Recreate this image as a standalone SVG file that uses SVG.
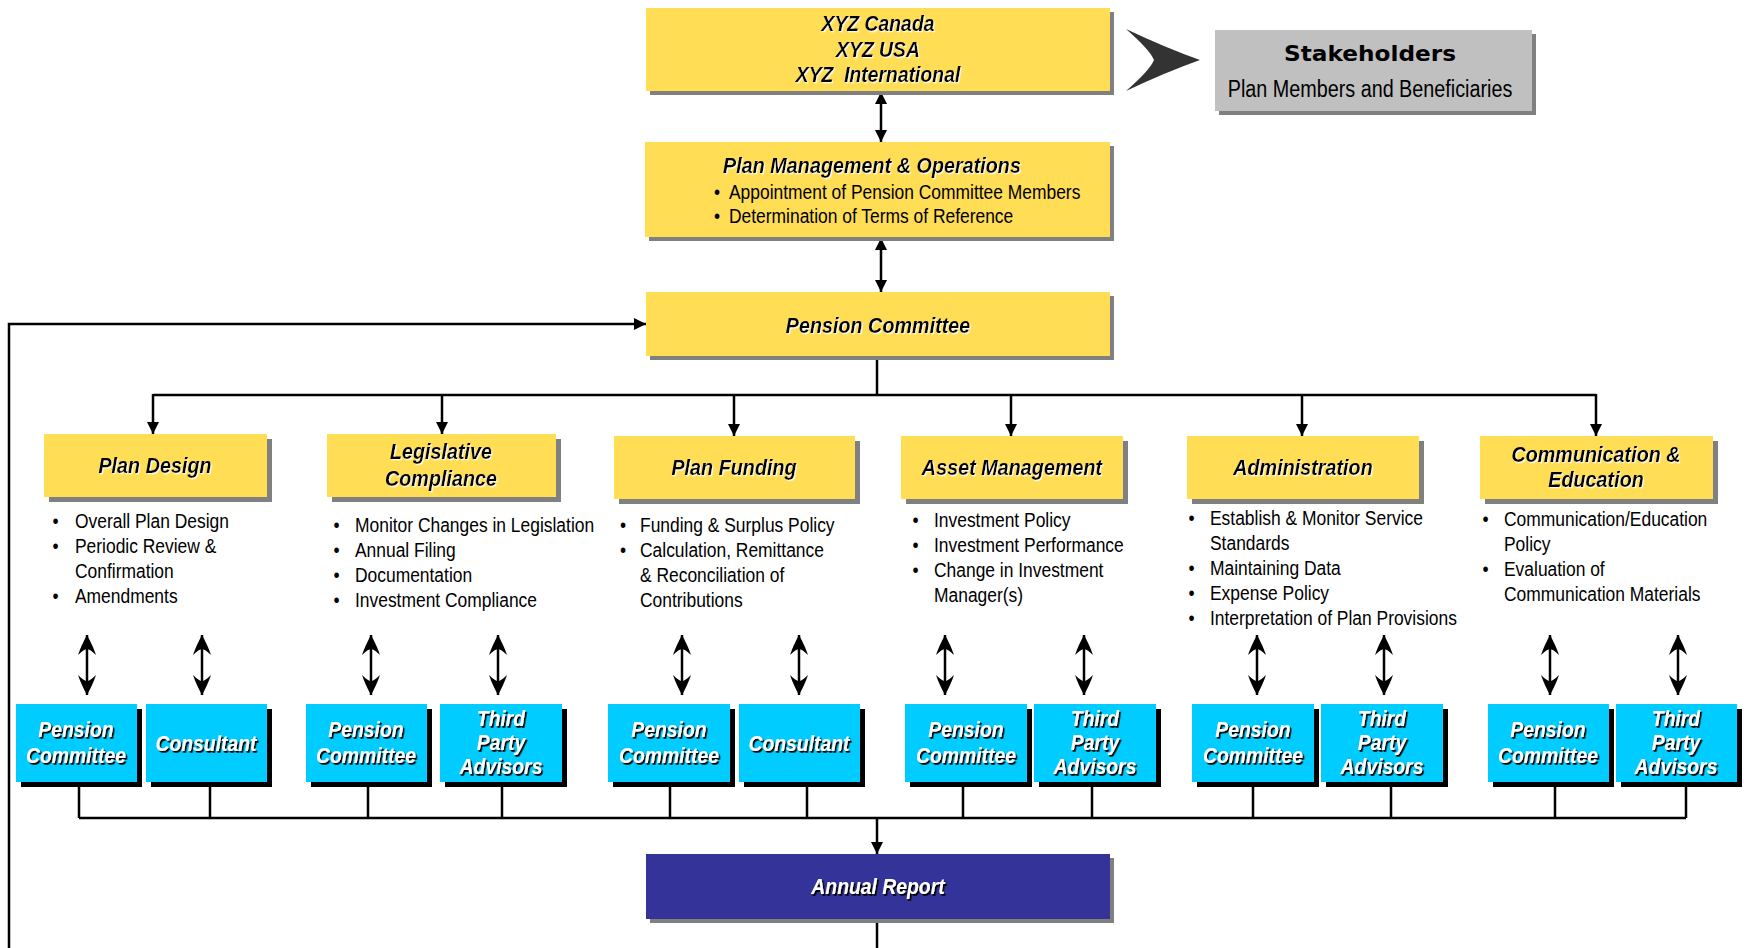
<svg xmlns="http://www.w3.org/2000/svg" width="1744" height="948" viewBox="0 0 1744 948">
<defs>
<style>
.yb{fill:#FFDD55}
.gs{fill:#808080}
.cb{fill:#00CCFF}
.ks{fill:#000}
.ttl{font-family:"Liberation Sans",Arial,sans-serif;font-weight:bold;font-style:italic;font-size:22px;fill:#000;text-anchor:middle;filter:url(#wsh)}
.ctx{font-family:"Liberation Sans",Arial,sans-serif;font-weight:bold;font-style:italic;font-size:22px;fill:#fff;text-anchor:middle;filter:url(#ksh)}
.bl{font-family:"Liberation Sans",Arial,sans-serif;font-size:21px;fill:#000}
.ln{fill:none;stroke:#000;stroke-width:2.5}
</style>
<filter id="wsh" x="-5%" y="-20%" width="110%" height="140%"><feDropShadow dx="1.3" dy="1.3" stdDeviation="0" flood-color="#fff" flood-opacity="0.9"/></filter>
<filter id="ksh" x="-5%" y="-20%" width="110%" height="140%"><feDropShadow dx="1.8" dy="1.8" stdDeviation="0" flood-color="#000"/></filter>
<marker id="tri" markerUnits="userSpaceOnUse" viewBox="0 0 12 12" refX="12" refY="6" markerWidth="12" markerHeight="12" orient="auto-start-reverse"><path d="M0,0 L12,6 L0,12 z" fill="#000"/></marker>
<marker id="st" markerUnits="userSpaceOnUse" viewBox="0 0 20 18" refX="20" refY="9" markerWidth="20" markerHeight="18" orient="auto-start-reverse"><path d="M20,9 Q9,3 0,0 Q6,6 6,9 Q6,12 0,18 Q9,15 20,9 z" fill="#000"/></marker>
</defs>
<rect width="1744" height="948" fill="#fff"/>

<g id="connectors">
<line class="ln" x1="881" y1="92" x2="881" y2="142" marker-start="url(#tri)" marker-end="url(#tri)"/>
<line class="ln" x1="881" y1="238" x2="881" y2="292" marker-start="url(#tri)" marker-end="url(#tri)"/>
<polyline class="ln" points="9,948 9,324 646,324" marker-end="url(#tri)"/>
<line class="ln" x1="877" y1="357" x2="877" y2="395"/>
<line class="ln" x1="153" y1="395" x2="1596" y2="395"/>
<line class="ln" x1="153" y1="394" x2="153" y2="434" marker-end="url(#tri)"/>
<line class="ln" x1="442" y1="394" x2="442" y2="434" marker-end="url(#tri)"/>
<line class="ln" x1="734" y1="394" x2="734" y2="436" marker-end="url(#tri)"/>
<line class="ln" x1="1011" y1="394" x2="1011" y2="436" marker-end="url(#tri)"/>
<line class="ln" x1="1302" y1="394" x2="1302" y2="436" marker-end="url(#tri)"/>
<line class="ln" x1="1596" y1="394" x2="1596" y2="436" marker-end="url(#tri)"/>
<g>
<line class="ln" x1="87" y1="635" x2="87" y2="695" marker-start="url(#st)" marker-end="url(#st)"/>
<line class="ln" x1="202" y1="635" x2="202" y2="695" marker-start="url(#st)" marker-end="url(#st)"/>
<line class="ln" x1="371" y1="635" x2="371" y2="695" marker-start="url(#st)" marker-end="url(#st)"/>
<line class="ln" x1="498" y1="635" x2="498" y2="695" marker-start="url(#st)" marker-end="url(#st)"/>
<line class="ln" x1="682" y1="635" x2="682" y2="695" marker-start="url(#st)" marker-end="url(#st)"/>
<line class="ln" x1="799" y1="635" x2="799" y2="695" marker-start="url(#st)" marker-end="url(#st)"/>
<line class="ln" x1="945" y1="635" x2="945" y2="695" marker-start="url(#st)" marker-end="url(#st)"/>
<line class="ln" x1="1084" y1="635" x2="1084" y2="695" marker-start="url(#st)" marker-end="url(#st)"/>
<line class="ln" x1="1257" y1="635" x2="1257" y2="695" marker-start="url(#st)" marker-end="url(#st)"/>
<line class="ln" x1="1384" y1="635" x2="1384" y2="695" marker-start="url(#st)" marker-end="url(#st)"/>
<line class="ln" x1="1550" y1="635" x2="1550" y2="695" marker-start="url(#st)" marker-end="url(#st)"/>
<line class="ln" x1="1678" y1="635" x2="1678" y2="695" marker-start="url(#st)" marker-end="url(#st)"/>
</g>
<path class="ln" d="M79,787 V818 M210,787 V818 M368,787 V818 M502,787 V818 M670,787 V818 M807,787 V818 M963,787 V818 M1092,787 V818 M1253,787 V818 M1391,787 V818 M1555,787 V818 M1686,787 V818 M79,818 H1686"/>
<line class="ln" x1="877" y1="818" x2="877" y2="854" marker-end="url(#tri)"/>
<line class="ln" x1="877" y1="919" x2="877" y2="948"/>
<path d="M1126,29 Q1166,48 1200,60 Q1166,72 1126,91 Q1150,70 1154,60 Q1150,50 1126,29 z" fill="#333"/>
</g>

<g id="entities">
<rect class="gs" x="650" y="12" width="464" height="83"/>
<rect class="yb" x="646" y="8" width="464" height="83"/>
<text class="ttl" transform="translate(878 0) scale(0.88 1)" x="0" y="31">XYZ Canada</text>
<text class="ttl" transform="translate(878 0) scale(0.88 1)" x="0" y="57">XYZ USA</text>
<text class="ttl" transform="translate(878 0) scale(0.88 1)" x="0" y="82" style="white-space:pre">XYZ  International</text>
</g>

<g id="stakeholders">
<rect class="gs" x="1219" y="34" width="317" height="81"/>
<rect x="1215" y="30" width="317" height="81" fill="#C0C0C0"/>
<text x="1370" y="61" text-anchor="middle" font-family="'DejaVu Sans','Liberation Sans',sans-serif" font-weight="bold" font-size="21" textLength="172" lengthAdjust="spacingAndGlyphs">Stakeholders</text>
<text class="bl" transform="translate(1370 0) scale(0.86 1)" x="0" y="97" text-anchor="middle" style="font-size:23px">Plan Members and Beneficiaries</text>
</g>

<g id="plan-management">
<rect class="gs" x="649" y="146" width="465" height="95"/>
<rect class="yb" x="645" y="142" width="465" height="95"/>
<text class="ttl" transform="translate(872 0) scale(0.9 1)" x="0" y="173">Plan Management &amp; Operations</text>
<g class="bl" transform="translate(729 0) scale(0.83 1)">
<text x="-18" y="199">•</text><text x="0" y="199">Appointment of Pension Committee Members</text>
<text x="-18" y="223">•</text><text x="0" y="223">Determination of Terms of Reference</text>
</g>
</g>

<g id="pension-committee">
<rect class="gs" x="650" y="296" width="464" height="64"/>
<rect class="yb" x="646" y="292" width="464" height="64"/>
<text class="ttl" transform="translate(878 0) scale(0.9 1)" x="0" y="333">Pension Committee</text>
</g>

<g id="plan-design">
<rect class="gs" x="49" y="439" width="223" height="63"/>
<rect class="yb" x="44" y="434" width="223" height="63"/>
<text class="ttl" transform="translate(155 0) scale(0.9 1)" x="0" y="473">Plan Design</text>
<g class="bl" transform="translate(75 0) scale(0.83 1)">
<text x="-27" y="528">•</text><text x="0" y="528">Overall Plan Design</text>
<text x="-27" y="553">•</text><text x="0" y="553">Periodic Review &amp;</text>
<text x="0" y="578">Confirmation</text>
<text x="-27" y="603">•</text><text x="0" y="603">Amendments</text>
</g>
</g>

<g id="legislative-compliance">
<rect class="gs" x="332" y="439" width="229" height="63"/>
<rect class="yb" x="327" y="434" width="229" height="63"/>
<text class="ttl" transform="translate(441 0) scale(0.9 1)" x="0" y="459">Legislative</text>
<text class="ttl" transform="translate(441 0) scale(0.9 1)" x="0" y="486">Compliance</text>
<g class="bl" transform="translate(355 0) scale(0.83 1)">
<text x="-26" y="532">•</text><text x="0" y="532">Monitor Changes in Legislation</text>
<text x="-26" y="557">•</text><text x="0" y="557">Annual Filing</text>
<text x="-26" y="582">•</text><text x="0" y="582">Documentation</text>
<text x="-26" y="607">•</text><text x="0" y="607">Investment Compliance</text>
</g>
</g>

<g id="plan-funding">
<rect class="gs" x="619" y="441" width="241" height="63"/>
<rect class="yb" x="614" y="436" width="241" height="63"/>
<text class="ttl" transform="translate(734 0) scale(0.9 1)" x="0" y="475">Plan Funding</text>
<g class="bl" transform="translate(640 0) scale(0.83 1)">
<text x="-24" y="532">•</text><text x="0" y="532">Funding &amp; Surplus Policy</text>
<text x="-24" y="557">•</text><text x="0" y="557">Calculation, Remittance</text>
<text x="0" y="582">&amp; Reconciliation of</text>
<text x="0" y="607">Contributions</text>
</g>
</g>

<g id="asset-management">
<rect class="gs" x="906" y="441" width="222" height="63"/>
<rect class="yb" x="901" y="436" width="222" height="63"/>
<text class="ttl" transform="translate(1012 0) scale(0.9 1)" x="0" y="475">Asset Management</text>
<g class="bl" transform="translate(934 0) scale(0.83 1)">
<text x="-26" y="527">•</text><text x="0" y="527">Investment Policy</text>
<text x="-26" y="552">•</text><text x="0" y="552">Investment Performance</text>
<text x="-26" y="577">•</text><text x="0" y="577">Change in Investment</text>
<text x="0" y="602">Manager(s)</text>
</g>
</g>

<g id="administration">
<rect class="gs" x="1192" y="441" width="232" height="63"/>
<rect class="yb" x="1187" y="436" width="232" height="63"/>
<text class="ttl" transform="translate(1303 0) scale(0.9 1)" x="0" y="475">Administration</text>
<g class="bl" transform="translate(1210 0) scale(0.83 1)">
<text x="-26" y="525">•</text><text x="0" y="525">Establish &amp; Monitor Service</text>
<text x="0" y="550">Standards</text>
<text x="-26" y="575">•</text><text x="0" y="575">Maintaining Data</text>
<text x="-26" y="600">•</text><text x="0" y="600">Expense Policy</text>
<text x="-26" y="625">•</text><text x="0" y="625">Interpretation of Plan Provisions</text>
</g>
</g>

<g id="communication-education">
<rect class="gs" x="1485" y="441" width="233" height="63"/>
<rect class="yb" x="1480" y="436" width="233" height="63"/>
<text class="ttl" transform="translate(1596 0) scale(0.9 1)" x="0" y="462">Communication &amp;</text>
<text class="ttl" transform="translate(1596 0) scale(0.9 1)" x="0" y="487">Education</text>
<g class="bl" transform="translate(1504 0) scale(0.83 1)">
<text x="-26" y="526">•</text><text x="0" y="526">Communication/Education</text>
<text x="0" y="551">Policy</text>
<text x="-26" y="576">•</text><text x="0" y="576">Evaluation of</text>
<text x="0" y="601">Communication Materials</text>
</g>
</g>

<g id="pd-pension-committee"><rect class="ks" x="21" y="709" width="121" height="78"/><rect class="cb" x="16" y="704" width="121" height="78"/><text class="ctx" transform="translate(76 0) scale(0.88 1)" x="0" y="737">Pension</text><text class="ctx" transform="translate(76 0) scale(0.88 1)" x="0" y="763">Committee</text></g>
<g id="pd-consultant"><rect class="ks" x="151" y="709" width="121" height="78"/><rect class="cb" x="146" y="704" width="121" height="78"/><text class="ctx" transform="translate(206 0) scale(0.88 1)" x="0" y="751">Consultant</text></g>
<g id="lc-pension-committee"><rect class="ks" x="311" y="709" width="121" height="78"/><rect class="cb" x="306" y="704" width="121" height="78"/><text class="ctx" transform="translate(366 0) scale(0.88 1)" x="0" y="737">Pension</text><text class="ctx" transform="translate(366 0) scale(0.88 1)" x="0" y="763">Committee</text></g>
<g id="lc-third-party"><rect class="ks" x="445" y="709" width="122" height="78"/><rect class="cb" x="440" y="704" width="122" height="78"/><text class="ctx" transform="translate(501 0) scale(0.88 1)" x="0" y="726">Third</text><text class="ctx" transform="translate(501 0) scale(0.88 1)" x="0" y="750">Party</text><text class="ctx" transform="translate(501 0) scale(0.88 1)" x="0" y="774">Advisors</text></g>
<g id="pf-pension-committee"><rect class="ks" x="613" y="709" width="122" height="78"/><rect class="cb" x="608" y="704" width="122" height="78"/><text class="ctx" transform="translate(669 0) scale(0.88 1)" x="0" y="737">Pension</text><text class="ctx" transform="translate(669 0) scale(0.88 1)" x="0" y="763">Committee</text></g>
<g id="pf-consultant"><rect class="ks" x="744" y="709" width="121" height="78"/><rect class="cb" x="739" y="704" width="121" height="78"/><text class="ctx" transform="translate(799 0) scale(0.88 1)" x="0" y="751">Consultant</text></g>
<g id="am-pension-committee"><rect class="ks" x="910" y="709" width="122" height="78"/><rect class="cb" x="905" y="704" width="122" height="78"/><text class="ctx" transform="translate(966 0) scale(0.88 1)" x="0" y="737">Pension</text><text class="ctx" transform="translate(966 0) scale(0.88 1)" x="0" y="763">Committee</text></g>
<g id="am-third-party"><rect class="ks" x="1039" y="709" width="122" height="78"/><rect class="cb" x="1034" y="704" width="122" height="78"/><text class="ctx" transform="translate(1095 0) scale(0.88 1)" x="0" y="726">Third</text><text class="ctx" transform="translate(1095 0) scale(0.88 1)" x="0" y="750">Party</text><text class="ctx" transform="translate(1095 0) scale(0.88 1)" x="0" y="774">Advisors</text></g>
<g id="ad-pension-committee"><rect class="ks" x="1197" y="709" width="122" height="78"/><rect class="cb" x="1192" y="704" width="122" height="78"/><text class="ctx" transform="translate(1253 0) scale(0.88 1)" x="0" y="737">Pension</text><text class="ctx" transform="translate(1253 0) scale(0.88 1)" x="0" y="763">Committee</text></g>
<g id="ad-third-party"><rect class="ks" x="1326" y="709" width="122" height="78"/><rect class="cb" x="1321" y="704" width="122" height="78"/><text class="ctx" transform="translate(1382 0) scale(0.88 1)" x="0" y="726">Third</text><text class="ctx" transform="translate(1382 0) scale(0.88 1)" x="0" y="750">Party</text><text class="ctx" transform="translate(1382 0) scale(0.88 1)" x="0" y="774">Advisors</text></g>
<g id="ce-pension-committee"><rect class="ks" x="1493" y="709" width="121" height="78"/><rect class="cb" x="1488" y="704" width="121" height="78"/><text class="ctx" transform="translate(1548 0) scale(0.88 1)" x="0" y="737">Pension</text><text class="ctx" transform="translate(1548 0) scale(0.88 1)" x="0" y="763">Committee</text></g>
<g id="ce-third-party"><rect class="ks" x="1621" y="709" width="121" height="78"/><rect class="cb" x="1616" y="704" width="121" height="78"/><text class="ctx" transform="translate(1676 0) scale(0.88 1)" x="0" y="726">Third</text><text class="ctx" transform="translate(1676 0) scale(0.88 1)" x="0" y="750">Party</text><text class="ctx" transform="translate(1676 0) scale(0.88 1)" x="0" y="774">Advisors</text></g>

<g id="annual-report">
<rect class="gs" x="650" y="858" width="464" height="65"/>
<rect x="646" y="854" width="464" height="65" fill="#333399"/>
<text class="ctx" transform="translate(878 0) scale(0.88 1)" x="0" y="894">Annual Report</text>
</g>
</svg>
